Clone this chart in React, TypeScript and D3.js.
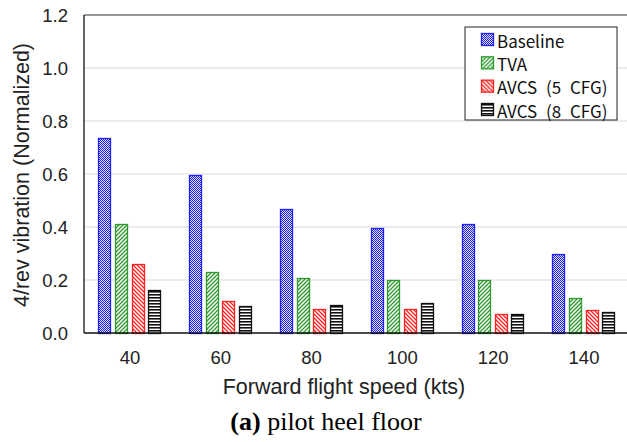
import React from "react";
import * as d3 from "d3";

const speeds = ["40", "60", "80", "100", "120", "140"];
const seriesNames = ["Baseline", "TVA", "AVCS (5 CFG)", "AVCS (8 CFG)"];
const baseline = [0.735, 0.596, 0.467, 0.395, 0.412, 0.297];
const tva = [0.411, 0.229, 0.206, 0.2, 0.2, 0.133];
const avcs5 = [0.262, 0.12, 0.089, 0.091, 0.072, 0.087];
const avcs8 = [0.162, 0.101, 0.104, 0.113, 0.07, 0.079];
const yTicks = [0, 0.2, 0.4, 0.6, 0.8, 1.0, 1.2];

const seriesValues = [baseline, tva, avcs5, avcs8];
const strokes = ["#1f1fff", "#2e9a2e", "#ff2020", "#111111"];
const patternIds = ["pat-base", "pat-tva", "pat-a5", "pat-a8"];

export default function App() {
  const width = 627;
  const height = 442;
  const margin = { top: 15, left: 84, bottom: 333, right: 629.4 };

  const y = d3.scaleLinear().domain([0, 1.2]).range([margin.bottom, margin.top]);

  const x0 = d3
    .scaleBand()
    .domain(speeds)
    .range([margin.left + 0.6, margin.right])
    .paddingInner(0.306)
    .paddingOuter(0.153);

  const x1 = d3
    .scaleBand()
    .domain(seriesNames)
    .range([0, x0.bandwidth()])
    .paddingInner(0.19);

  const sans = "'Liberation Sans', Arial, sans-serif";
  const legendFont = "'Noto Sans CJK KR', 'Noto Sans', sans-serif";

  const legendY = d3.scalePoint().domain(seriesNames).range([40, 110]);

  return (
    <svg
      width={width}
      height={height}
      style={{ position: "absolute", left: 0, top: 0, background: "#fff" }}
    >
      <defs>
        <pattern id="pat-base" width="2" height="2" patternUnits="userSpaceOnUse">
          <rect width="2" height="2" fill="#e4e4ff" />
          <rect width="1" height="1" fill="#1a1aff" />
          <rect x="1" y="1" width="1" height="1" fill="#1a1aff" />
        </pattern>
        <pattern id="pat-tva" width="4" height="4" patternUnits="userSpaceOnUse">
          <rect width="4" height="4" fill="#fff" />
          <path d="M-1,1 L1,-1 M0,4 L4,0 M3,5 L5,3" stroke="#2e9a2e" strokeWidth="1.3" />
        </pattern>
        <pattern id="pat-a5" width="4" height="4" patternUnits="userSpaceOnUse">
          <rect width="4" height="4" fill="#fff" />
          <path d="M-1,3 L1,5 M0,0 L4,4 M3,-1 L5,1" stroke="#ff2020" strokeWidth="1.3" />
        </pattern>
        <pattern id="pat-a8" width="3" height="3" patternUnits="userSpaceOnUse">
          <rect width="3" height="3" fill="#fff" />
          <rect y="0" width="3" height="1.6" fill="#111" />
        </pattern>
      </defs>

      {/* gridlines */}
      {yTicks.slice(1).map((t) => (
        <line
          key={t}
          x1={margin.left}
          x2={width}
          y1={y(t)}
          y2={y(t)}
          stroke="#d9d9d9"
          strokeWidth={1}
        />
      ))}

      {/* plot border */}
      <line x1={margin.left} x2={width} y1={margin.top} y2={margin.top} stroke="#444" strokeWidth={1} />
      <line x1={margin.left} x2={margin.left} y1={margin.top} y2={margin.bottom} stroke="#111" strokeWidth={1.3} />

      {/* bars */}
      {speeds.map((s, i) =>
        seriesNames.map((name, j) => {
          const v = seriesValues[j][i];
          const bx = Math.round((x0(s) ?? 0) + (x1(name) ?? 0)) + 0.5;
          return (
            <rect
              key={s + name}
              x={bx}
              y={Math.round(y(v)) + 0.5}
              width={Math.round(x1.bandwidth()) - 1}
              height={Math.round(y(0)) - Math.round(y(v))}
              fill={`url(#${patternIds[j]})`}
              stroke={strokes[j]}
              strokeWidth={1.3}
            />
          );
        })
      )}

      <line x1={margin.left} x2={width} y1={margin.bottom} y2={margin.bottom} stroke="#111" strokeWidth={1.3} />

      {/* y ticks */}
      {yTicks.map((t) => (
        <text
          key={t}
          x={68}
          y={y(t)}
          textAnchor="end"
          dominantBaseline="central"
          fontFamily={sans}
          fontSize={18.5}
          fill="#222"
        >
          {d3.format(".1f")(t)}
        </text>
      ))}

      {/* x ticks */}
      {speeds.map((s) => (
        <text
          key={s}
          x={(x0(s) ?? 0) + x0.bandwidth() / 2}
          y={357}
          textAnchor="middle"
          dominantBaseline="central"
          fontFamily={sans}
          fontSize={18.5}
          fill="#222"
        >
          {s}
        </text>
      ))}

      <text
        transform="translate(22,175) rotate(-90)"
        textAnchor="middle"
        dominantBaseline="central"
        fontFamily={sans}
        fontSize={21.5}
        fill="#222"
      >
        4/rev vibration (Normalized)
      </text>

      <text
        x={344}
        y={387}
        textAnchor="middle"
        dominantBaseline="central"
        fontFamily={sans}
        fontSize={21.5}
        fill="#222"
      >
        Forward flight speed (kts)
      </text>

      <text
        x={326}
        y={421}
        textAnchor="middle"
        dominantBaseline="central"
        fontFamily="'Liberation Serif', 'Times New Roman', serif"
        fontSize={26}
        fill="#000"
      >
        <tspan fontWeight="bold">(a)</tspan> pilot heel floor
      </text>

      {/* legend */}
      <rect x={465} y={27} width={152} height={93} fill="#fff" stroke="#222" strokeWidth={1} />
      {seriesNames.map((name, j) => (
        <g key={name} transform={`translate(0,${legendY(name)})`}>
          <rect
            x={481.5}
            y={-6.5}
            width={12}
            height={12}
            fill={`url(#${patternIds[j]})`}
            stroke={strokes[j]}
            strokeWidth={1.3}
          />
          <text
            x={497}
            y={0}
            dominantBaseline="central"
            fontFamily={legendFont}
            fontSize={17}
            wordSpacing={5}
            fill="#111"
          >
            {name}
          </text>
        </g>
      ))}
    </svg>
  );
}
